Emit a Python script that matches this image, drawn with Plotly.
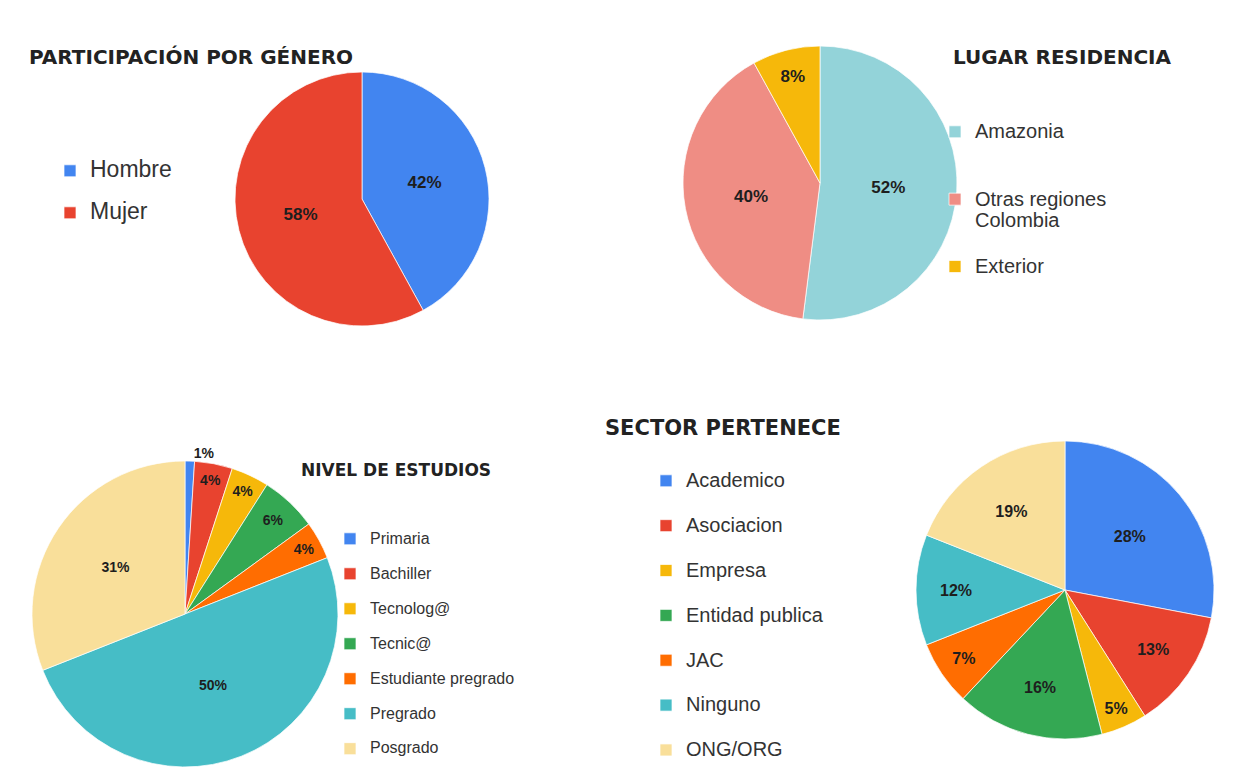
import textwrap
import plotly.graph_objects as go

# ---------------- data ----------------
gender_labels = ["Hombre", "Mujer"]
gender_values = [42, 58]

residence_labels = ["Amazonia", "Otras regiones Colombia", "Exterior"]
residence_values = [52, 40, 8]

study_labels = ["Primaria", "Bachiller", "Tecnolog@", "Tecnic@",
                "Estudiante pregrado", "Pregrado", "Posgrado"]
study_values = [1, 4, 4, 6, 4, 50, 31]

sector_labels = ["Academico", "Asociacion", "Empresa", "Entidad publica",
                 "JAC", "Ninguno", "ONG/ORG"]
sector_values = [28, 13, 5, 16, 7, 12, 19]

chart_titles = ["PARTICIPACIÓN POR GÉNERO", "LUGAR RESIDENCIA",
                "NIVEL DE ESTUDIOS", "SECTOR PERTENECE"]

# ---------------- styles ----------------
BLUE, RED, YELLOW, GREEN = "#4285f0", "#e8432f", "#f6b80a", "#34a853"
ORANGE, TEAL, SAND = "#ff6d01", "#46bdc6", "#f9df9a"
gender_colors = [BLUE, RED]
residence_colors = ["#93d3d9", "#ef8d84", YELLOW]
study_colors = [BLUE, RED, YELLOW, GREEN, ORANGE, TEAL, SAND]
sector_colors = [BLUE, RED, YELLOW, GREEN, ORANGE, TEAL, SAND]

OFF = 8            # browser body margin
FW, FH = 1251 - 2 * OFF, 775 - 2 * OFF


def px(x):
    return min(1, max(0, (x - OFF) / FW))


def py(y):
    return min(1, max(0, 1 - (y - OFF) / FH))


def dom(cx, cy, r):
    return dict(x=[px(cx - r), px(cx + r)], y=[py(cy + r), py(cy - r)])


def legend_text(labels, size, lines, wrap=None):
    out = []
    for i, lab in enumerate(labels):
        parts = textwrap.wrap(lab, wrap) if wrap else [lab]
        body = "<br>".join(f"<span style='font-size:{size}px'>{p}</span>" for p in parts)
        if i < len(labels) - 1:
            body += "<br> " * (lines - len(parts))
        out.append(body)
    return out


TXT = "#1e1e1e"
FONT = "Liberation Sans"


def pie(labels, values, colors, domain, legend, tsize, positions=None):
    return go.Pie(
        labels=labels, values=values, sort=False, direction="clockwise",
        marker=dict(colors=colors, line=dict(color="rgba(255,255,255,0.7)", width=1)),
        domain=domain, legend=legend,
        texttemplate="%{percent:.0%}",
        textposition=positions if positions else "inside",
        insidetextorientation="horizontal",
        textfont=dict(family=FONT, size=tsize, color=TXT, weight="bold"),
        hoverinfo="label+percent",
    )


fig = go.Figure()
fig.add_trace(pie(legend_text(gender_labels, 23, 2), gender_values, gender_colors,
                  dom(362, 199, 127), "legend", 17))
fig.add_trace(pie(legend_text(residence_labels, 20, 3, wrap=15), residence_values,
                  residence_colors, dom(820, 183, 137), "legend2", 17))
fig.add_trace(pie(legend_text(study_labels, 16, 2), study_values, study_colors,
                  dom(185, 614, 153), "legend3", 14,
                  positions=["outside"] + ["inside"] * 6))
fig.add_trace(pie(legend_text(sector_labels, 20, 2), sector_values, sector_colors,
                  dom(1065, 590, 149), "legend4", 16))


def leg(text_x, first_center, size):
    top = first_center - size * 1.3 / 2 - 5.7
    return dict(x=px(text_x - 40), y=py(top), xanchor="left", yanchor="top",
                valign="top", bgcolor="rgba(0,0,0,0)",
                font=dict(family=FONT, size=size, color="#333333"),
                itemclick=False, itemdoubleclick=False)


title_pos = [(27, 57, 20), (951, 57, 20), (299, 470, 17), (603, 428, 21)]
annotations = [
    dict(text=t, x=px(x), y=py(y), xref="paper", yref="paper", xanchor="left",
         yanchor="middle", showarrow=False,
         font=dict(family="DejaVu Sans", size=s, color="#222222", weight="bold"))
    for t, (x, y, s) in zip(chart_titles, title_pos)
]

fig.update_layout(
    width=FW, height=FH,
    margin=dict(l=0, r=0, t=0, b=0, autoexpand=False),
    paper_bgcolor="white", plot_bgcolor="white",
    legend=leg(90, 170, 15),
    legend2=leg(975, 131, 16.5),
    legend3=leg(370, 538, 12.3),
    legend4=leg(686, 480, 16.1),
    annotations=annotations,
)

fig.write_html("out.html")
